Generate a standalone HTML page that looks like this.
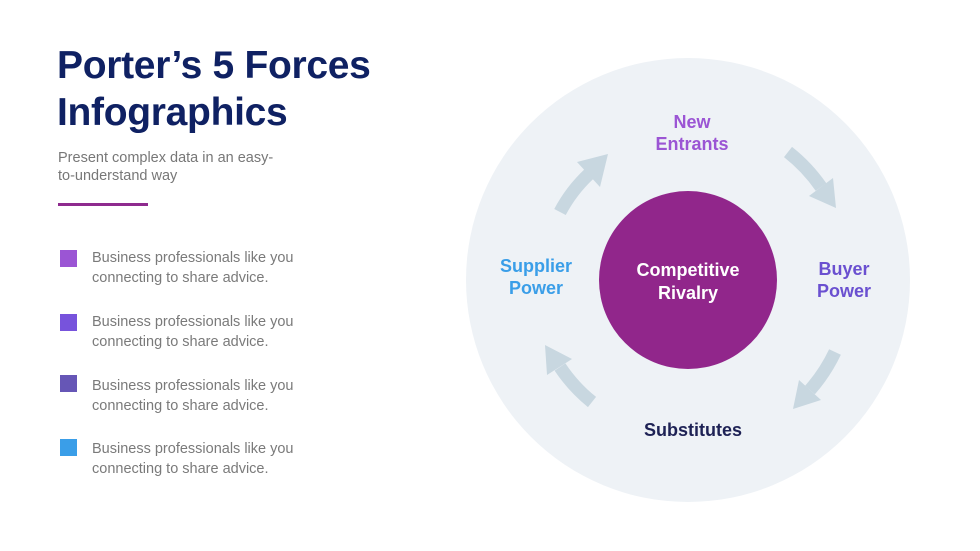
<!DOCTYPE html>
<html><head><meta charset="utf-8"><style>
html,body{margin:0;padding:0;width:980px;height:551px;background:#fff;overflow:hidden}
body{position:relative;font-family:"Liberation Sans",sans-serif}
.t{position:absolute;left:57px;top:42px;font-size:39px;font-weight:bold;color:#0f2163;line-height:47px;letter-spacing:-0.3px}
.s{position:absolute;left:58px;top:149px;font-size:14.5px;color:#777;line-height:18px}
.ln{position:absolute;left:58px;top:203px;width:90px;height:3px;background:#8e2a8e}
.b{position:absolute;left:60px;width:17px;height:17px}
.bt{position:absolute;left:92px;font-size:14.5px;color:#7a7a7a;line-height:20px}
</style></head><body>
<div class="t">Porter’s 5 Forces<br>Infographics</div>
<div class="s">Present complex data in an easy-<br>to-understand way</div>
<div class="ln"></div>
<div class="b" style="top:250px;background:#9b55d4"></div>
<div class="bt" style="top:248px">Business professionals like you<br>connecting to share advice.</div>
<div class="b" style="top:314px;background:#7753dc"></div>
<div class="bt" style="top:312px">Business professionals like you<br>connecting to share advice.</div>
<div class="b" style="top:375px;background:#6656b6"></div>
<div class="bt" style="top:376px">Business professionals like you<br>connecting to share advice.</div>
<div class="b" style="top:439px;background:#3a9ee8"></div>
<div class="bt" style="top:439px">Business professionals like you<br>connecting to share advice.</div>
<svg width="980" height="551" style="position:absolute;left:0;top:0">
<circle cx="688" cy="280" r="222" fill="#eef2f6"/>
<circle cx="688" cy="280" r="89" fill="#91268b"/>
<g fill="none" stroke="#c8d7e0" stroke-width="13">
<path d="M560 212 A145 145 0 0 1 589 174"/>
<path d="M788 152 A162 162 0 0 1 821 187"/>
<path d="M835 352 A164 164 0 0 1 810 390"/>
<path d="M592 402 A155 155 0 0 1 560 367"/>
</g>
<g fill="#c8d7e0">
<polygon points="608,154 577,162 600,187"/>
<polygon points="836,208 833,178 809,196"/>
<polygon points="793,409 821,400 799,380"/>
<polygon points="545,345 547,375 572,359"/>
</g>
<g font-family="Liberation Sans,sans-serif" font-weight="bold" font-size="18" text-anchor="middle">
<text x="692" y="128" fill="#9b55d4">New</text>
<text x="692" y="150" fill="#9b55d4">Entrants</text>
<text x="536" y="272" fill="#3a9ee8">Supplier</text>
<text x="536" y="294" fill="#3a9ee8">Power</text>
<text x="844" y="275" fill="#6a50d0">Buyer</text>
<text x="844" y="297" fill="#6a50d0">Power</text>
<text x="688" y="276" fill="#fff">Competitive</text>
<text x="688" y="299" fill="#fff">Rivalry</text>
<text x="693" y="436" fill="#1e2255">Substitutes</text>
</g>
</svg>
</body></html>
